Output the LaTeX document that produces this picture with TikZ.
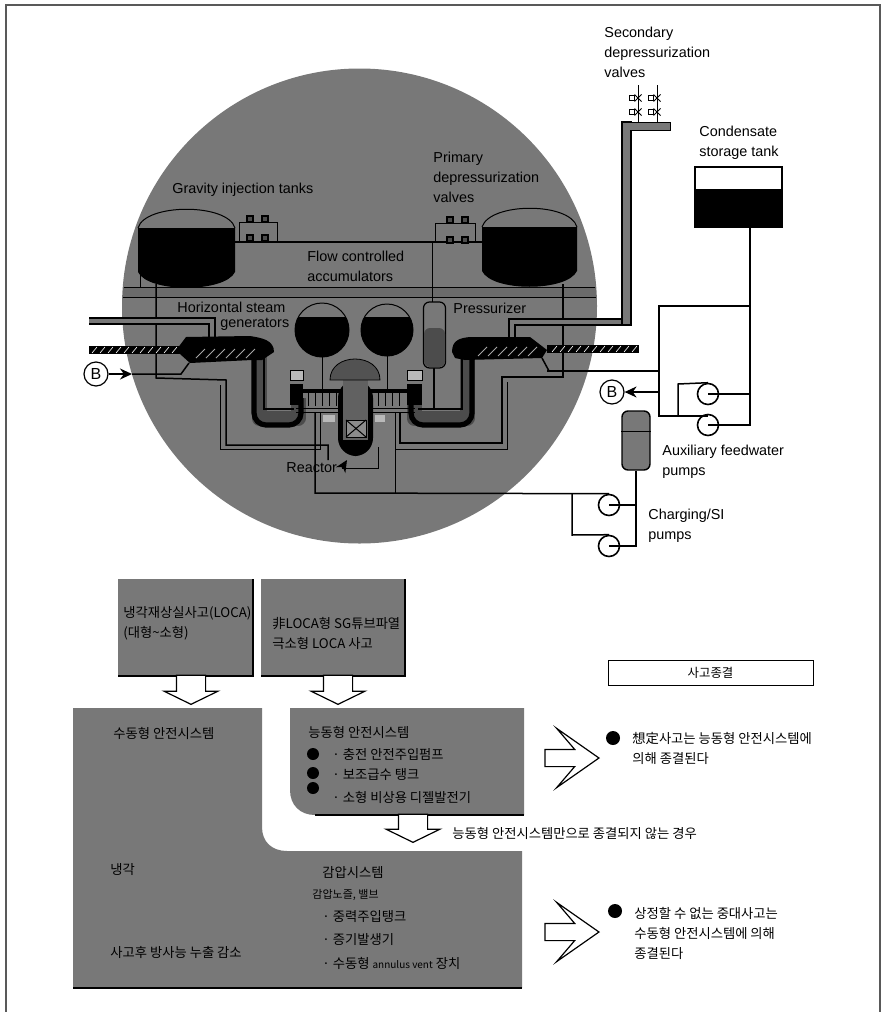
\documentclass[tikz,border=0pt]{standalone}
\usepackage{fontspec}
\setmainfont{Liberation Sans}
\newfontfamily\korfont{Noto Sans CJK KR}
\usetikzlibrary{shapes,shapes.misc,arrows.meta,positioning,calc}
\definecolor{halftone}{gray}{0.47}
\definecolor{halfdark}{gray}{0.3}

\begin{document}
\begin{tikzpicture}[
  x=0.5pt, y=-0.5pt,
  >={Stealth[length=6pt,width=5.5pt]},
  txt/.style={font=\fontsize{7.2}{10}\selectfont, align=left, anchor=west, inner sep=0pt},
  kor/.style={font=\fontsize{6.65}{10}\selectfont\korfont, align=left, anchor=west, inner sep=0pt},
  wire/.style={draw, line width=0.75pt},
  fine/.style={draw, line width=0.5pt},
  steam/.style={draw, line width=0.6pt, double=halftone, double distance=2.4pt},
  pump/.style={circle, draw, fill=white, line width=0.8pt, minimum size=10.5pt, inner sep=0pt},
  circmark/.style={circle, draw, fill=white, line width=0.6pt, minimum size=12pt, inner sep=0pt,
               font=\fontsize{8}{8}\selectfont},
  bullet/.style={circle, fill=black, minimum size=7pt, inner sep=0pt},
  valvebox/.style={rectangle, draw, fill=black!70, line width=0.6pt, minimum size=3pt, inner sep=0pt},
  valvex/.style={cross out, draw, line width=0.5pt, minimum size=3pt, inner sep=0pt},
  downflow/.style={single arrow, draw, fill=white, line width=0.6pt, shape border rotate=270,
                   inner sep=0pt, minimum width=26.5pt, minimum height=14.5pt,
                   single arrow head extend=6.2pt, single arrow tip angle=128, anchor=tip},
  rightflow/.style={single arrow, draw, fill=white, line width=0.6pt,
                    inner sep=0pt, minimum width=29pt, minimum height=27pt,
                    single arrow head extend=10.5pt, single arrow head indent=9pt,
                    single arrow tip angle=70, anchor=tip},
]
  \useasboundingbox (0,0) rectangle (882,1012);
  \draw[line width=0.7pt, gray!70!black] (6,1012) -- (6,5) -- (880,5) -- (880,1012);

  \coordinate (dome) at (359.5,306);
  \fill[halftone] (dome) circle [radius=237.5];
  \fill[black!58] (123,287) rectangle (596,297);
  \draw[fine] (124,287) -- (595,287);
  \draw[fine] (123,297) -- (596,297);

  \fill[black] (138,228) -- (235,228) -- (235,272) .. controls (225,293) and (148,293) .. (138,272) -- cycle;
  \draw[fine] (138,228) .. controls (145,203) and (228,203) .. (235,228);
  \fill[black] (482,227) -- (577,227) -- (577,271) .. controls (567,292) and (492,292) .. (482,271) -- cycle;
  \draw[fine] (482,227) .. controls (490,202) and (570,202) .. (577,227);

  \draw[fine] (239,242) -- (239,222) -- (277,222) -- (277,242);
  \draw[wire] (235,242) -- (482,242);
  \draw[fine] (435,242) -- (435,223) -- (475,223) -- (475,242);
  \foreach \x/\y in {250/219, 265/219, 250/238, 265/238, 450/220, 465/220, 450/240, 465/240}
    \node[valvebox] at (\x,\y) {};

  \draw[fine] (432,242) -- (432,303);
  \draw[fine] (140,272) -- (140,287);
  \draw[wire] (156,284) -- (156,378) -- (226,380) -- (226,445) -- (328,445) -- (328,460);
  \draw[fine] (220,385) -- (220,449) -- (320,449) -- (320,412);
  \draw[wire] (563,284) -- (563,377) -- (502,377) -- (502,443) -- (400,443) -- (400,412);
  \draw[fine] (507,382) -- (507,449) -- (395,449);
  \draw[fine] (395,412) -- (395,493);
  \draw[fine] (378,447) -- (378,468) -- (342,468);
  \draw[->, fine] (342,468) -- (347,460);

  \draw[steam] (89,321) -- (212,321) -- (212,337);
  \draw[steam] (512,337) -- (512,322) -- (626,322);
  \fill[black] (89,346) rectangle (182,354);
  \fill[black] (547,345) rectangle (639,353);
  \foreach \x in {92,100,...,180}
    \draw[white, line width=0.3pt] (\x,353) -- (\x+5,347);
  \foreach \x in {552,560,...,636}
    \draw[white, line width=0.3pt] (\x,352) -- (\x+5,346);

  \draw[line width=7.5pt, halfdark, line join=round] (259,340) -- (259,418) -- (298,418) -- (298,398);
  \draw[line width=7.5pt, halfdark, line join=round] (467,340) -- (467,418) -- (414,418) -- (414,398);
  \draw[line width=2.6pt, rounded corners=6pt] (254,340) -- (254,425) -- (301,425) -- (301,398);
  \draw[wire] (264,345) -- (264,409) -- (294,409);
  \draw[line width=2.6pt, rounded corners=6pt] (472,340) -- (472,425) -- (411,425) -- (411,398);
  \draw[wire] (462,345) -- (462,409) -- (418,409);

  \fill[black] (177,349) -- (186,337) -- (250,336) .. controls (262,338) and (274,340) .. (274,352) -- (262,360) -- (252,360) -- (190,363) -- (180,354) -- cycle;
  \foreach \x in {196,206,...,246}
    \draw[gray!70, line width=0.4pt] (\x,358) -- (\x+9,349);
  \fill[black] (452,352) .. controls (452,340) and (460,338) .. (470,337) -- (530,337) -- (547,350) -- (542,358) -- (465,360) -- (455,358) -- cycle;
  \foreach \x in {478,488,...,530}
    \draw[gray!70, line width=0.4pt] (\x,356) -- (\x+9,347);

  \fill[black] (322,330) circle [radius=27];
  \fill[black] (387,330) circle [radius=26];
  \fill[halftone] (295,302) rectangle (415,317);
  \draw[fine] (322,330) circle [radius=27];
  \draw[fine] (387,330) circle [radius=26];
  \draw[fine] (322,357) -- (322,390);
  \draw[fine] (387,356) -- (387,390);

  \draw[wire] (434,368) -- (434,410);
  \node[draw, fill=halftone, rounded corners=3pt, line width=0.6pt, minimum width=11pt, minimum height=33pt, inner sep=0pt] (pressurizer) at (434.5,335) {};
  \fill[halfdark, rounded corners=3pt] (424,328) rectangle (445,367);

  \draw[line width=2pt] (296,391) -- (415,391);
  \draw[fine] (296,408) -- (415,408);
  \draw[fine] (296,412) -- (415,412);
  \foreach \x in {308,315,...,336,378,385,...,404}
    \draw[fine] (\x,393) -- (\x,406);
  \foreach \x/\w in {290/13, 407/15} {
    \fill[gray!55] (\x,370) rectangle (\x+\w,380);
    \draw[fine] (\x,370) rectangle (\x+\w,380);
    \fill[black] (\x,384) rectangle (\x+\w,405);
  }
  \fill[gray!55] (323,415) rectangle (335,422);
  \fill[gray!55] (375,415) rectangle (385,422);

  \fill[black, rounded corners=9pt] (338,380) -- (338,456) -- (373,456) -- (373,380) -- cycle;
  \fill[black!62] (343,375) rectangle (368,440);
  \fill[black!68, draw=black] (330,380) .. controls (330,352) and (380,352) .. (380,380) -- cycle;
  \fill[black!45] (346,420) rectangle (366,437);
  \draw[fine] (346,420) rectangle (366,437);
  \draw[fine] (346,420) -- (366,437);
  \draw[fine] (366,420) -- (346,437);

  \coordinate (cstout) at (750,227);
  \coordinate (auxtop) at (659,306);
  \coordinate (auxlow) at (659,416);
  \node[circmark] (markleft) at (96,374) {B};
  \node[circmark] (markright) at (612,392) {B};
  \draw[->, wire] (markleft) -- (132,374);
  \draw[wire] (132,374) -- (181,374) -- (189,363);
  \draw[wire] (547,371) -- (659,371);
  \draw[wire] (542,358) -- (549,371);

  \node[draw, fill=halftone, line width=0.7pt, minimum width=4.5pt, minimum height=101.5pt, inner sep=0pt] (stackpipe) at (626.5,223.5) {};
  \draw[fine, fill=halftone] (622,122) rectangle (670,130);
  \fill[halftone] (623,123) rectangle (630,133);
  \foreach \x in {638,657} {
    \draw[fine] (\x,85) -- (\x,122);
    \foreach \y in {98,112} {
      \node[valvex] at (\x,\y) {};
      \node[valvebox, fill=white, minimum size=2.5pt] at (\x-6,\y) {};
    }
  }

  \node[draw, fill=white, line width=0.7pt, minimum width=43.5pt, minimum height=30pt, inner sep=0pt] (condtank) at (738.5,197) {};
  \fill[black] (695,189) rectangle (condtank.south east);

  \node[pump] (auxpumpa) at (708,394) {};
  \node[pump] (auxpumpb) at (708,425) {};
  \draw[wire] (cstout) -- (cstout |- auxpumpb) -- (auxpumpb.center);
  \draw[wire] (auxpumpa.center) -- (auxpumpa -| cstout);
  \draw[wire] (cstout |- auxtop) -- (auxtop) -- (auxlow) -- (auxlow -| auxpumpb);
  \draw[wire] (auxpumpa.north) -- (678,384) -- (678,416);
  \draw[->, wire] (659,392) -- (markright);

  \node[draw, fill=halftone, rounded corners=3pt, line width=0.7pt, minimum width=14pt, minimum height=29.5pt, inner sep=0pt] (chargetank) at (636,440.5) {};
  \draw[fine] (chargetank.west |- 0,431) -- (chargetank.east |- 0,431);
  \node[pump] (sipumpa) at (609,505) {};
  \node[pump] (sipumpb) at (609,546) {};
  \draw[wire] (chargetank.south) -- (chargetank.south |- sipumpb) -- (sipumpb.center);
  \draw[wire] (sipumpa.center) -- (sipumpa -| chargetank.south);
  \draw[wire] (315,412) -- (315,493) -- (sipumpa.north);
  \draw[wire] (572,493) -- (572,535) -- (sipumpb.north);

  \node[txt] (gravitylabel) at (172,190) {Gravity injection tanks};
  \node[txt] (flowlabel) at (307,266) {Flow controlled\\accumulators};
  \node[txt] (hsglabel) at (177,307) {Horizontal steam};
  \node[txt] (genlabel) at (220,324) {generators};
  \node[txt] (primarylabel) at (433,177) {Primary\\depressurization\\valves};
  \node[txt] (pressurizerlabel) at (453,308) {Pressurizer};
  \node[txt] (reactorlabel) at (286,468) {Reactor};
  \node[txt] (secondarylabel) at (604,52) {Secondary\\depressurization\\valves};
  \node[txt] (condlabel) at (699,143) {Condensate\\storage tank};
  \node[txt] (auxlabel) at (662,462) {Auxiliary feedwater\\pumps};
  \node[txt] (silabel) at (648,526) {Charging/SI\\pumps};

  \fill[halftone] (118,579) rectangle (253,676);
  \draw[wire] (253,579) -- (253,676) -- (118,676);
  \fill[halftone] (261,579) rectangle (405,676);
  \draw[wire] (405,579) -- (405,676) -- (261,676);

  \fill[halftone] (73,708) -- (262,708) -- (262,827) .. controls (262,842) and (272,851) .. (287,851) -- (522,851) -- (522,988) -- (73,988) -- cycle;
  \fill[halftone] (290,708) -- (524,708) -- (524,815) -- (315,815) .. controls (300,815) and (290,805) .. (290,790) -- cycle;
  \draw[wire] (315,815) -- (524,815);
  \draw[wire] (73,988) -- (522,988);

  \node[kor] (locatext) at (123,623) {냉각재상실사고(LOCA)\\(대형\textasciitilde 소형)};
  \node[kor] (nonlocatext) at (272,633) {非LOCA형 SG튜브파열\\극소형 LOCA 사고};
  \node[kor] (passivetext) at (113,733) {수동형 안전시스템};
  \node[kor] (activetext) at (308,732) {능동형 안전시스템};
  \node[bullet, minimum size=6pt] (dota) at (313,754) {};
  \node[bullet, minimum size=6pt] (dotb) at (313,773) {};
  \node[bullet, minimum size=6pt] (dotc) at (313,788) {};
  \node[kor] (activea) at (332,754) {· 충전 안전주입펌프};
  \node[kor] (activeb) at (332,775) {· 보조급수 탱크};
  \node[kor] (activec) at (332,797) {· 소형 비상용 디젤발전기};
  \node[kor] (coolingtext) at (110,870) {냉각};
  \node[kor] (releasetext) at (110,952) {사고후 방사능 누출 감소};
  \node[kor] (depresstext) at (322,873) {감압시스템};
  \node[kor, font=\fontsize{5.5}{6}\selectfont\korfont] (smalltext) at (312,895) {감압노즐, 밸브};
  \node[kor] (injecttext) at (322,917) {· 중력주입탱크};
  \node[kor] (sgtext) at (322,940) {· 증기발생기};
  \node[kor] (venttext) at (322,963) {· 수동형 {\fontsize{5}{6}\selectfont annulus vent} 장치};

  \node[downflow] (flowa) at (191,705) {\rule{14pt}{0pt}};
  \node[downflow] (flowb) at (338,705) {\rule{14pt}{0pt}};
  \node[downflow, minimum height=14pt] (flowc) at (413,843) {\rule{14pt}{0pt}};
  \node[rightflow] (flowd) at (600,758) {\rule{0pt}{8pt}};
  \node[rightflow] (flowe) at (600,932) {\rule{0pt}{8pt}};

  \node[draw, line width=0.5pt, minimum width=102.5pt, minimum height=12.5pt, inner sep=0pt, font=\fontsize{6.2}{10}\selectfont\korfont] (endbox) at (710.5,672.5) {사고종결};
  \node[kor] (notstopped) at (452,833) {능동형 안전시스템만으로 종결되지 않는 경우};
  \node[bullet] (dotd) at (613,738) {};
  \node[kor] (designtext) at (632,748) {想定사고는 능동형 안전시스템에\\의해 종결된다};
  \node[bullet] (dote) at (615,911) {};
  \node[kor] (severetext) at (634,933) {상정할 수 없는 중대사고는\\수동형 안전시스템에 의해\\종결된다};
\end{tikzpicture}
\end{document}
